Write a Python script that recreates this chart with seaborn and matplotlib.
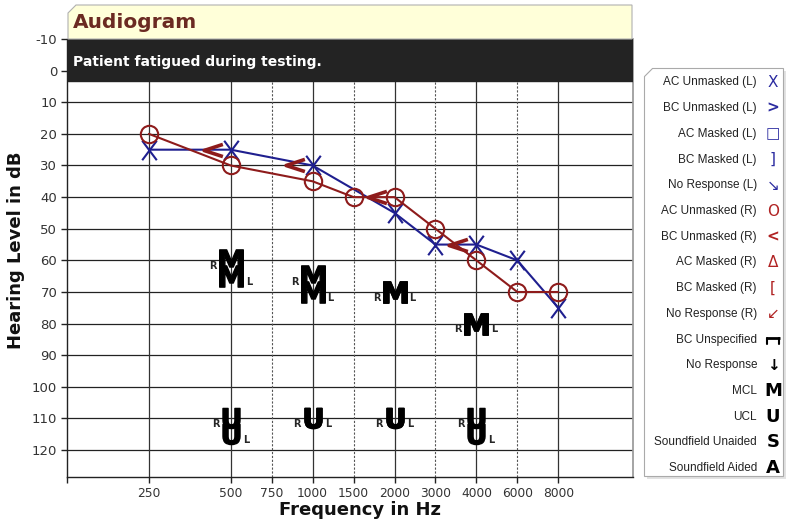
import numpy as np
import matplotlib
matplotlib.use('Agg')
import matplotlib.pyplot as plt
import seaborn as sns
from matplotlib.path import Path
from matplotlib.patches import Polygon
from matplotlib.transforms import ScaledTranslation

# audiogram frequency slots: octaves evenly spaced, half-octave freqs in the middle
scale_freqs = [125, 250, 500, 750, 1000, 1500, 2000, 3000, 4000, 6000, 8000, 16000]
scale_slots = [-1, 0, 1, 1.5, 2, 2.5, 3, 3.5, 4, 4.5, 5, 6]
tick_freqs = [125, 250, 500, 750, 1000, 1500, 2000, 3000, 4000, 6000, 8000]
tick_labels = ['', '250', '500', '750', '1000', '1500', '2000', '3000', '4000', '6000', '8000']
octave_freqs = [250, 500, 1000, 2000, 4000, 8000]
mid_freqs = [750, 1500, 3000, 6000]
db_ticks = list(range(-10, 130, 10))

# thresholds
left_ac_freqs = [250, 500, 1000, 2000, 3000, 4000, 6000, 8000]
left_ac_db = [25, 25, 30, 45, 55, 55, 60, 75]
right_ac_freqs = [250, 500, 1000, 1500, 2000, 3000, 4000, 6000, 8000]
right_ac_db = [20, 30, 35, 40, 40, 50, 60, 70, 70]
right_bc_freqs = [500, 1000, 2000, 4000]
right_bc_db = [25, 30, 40, 55]

# comfort / discomfort levels
mcl_freqs = [500, 1000, 2000, 4000]
mcl_right_db = [60, 65, 70, 80]
mcl_left_db = [65, 70, 70, 80]
ucl_freqs = [500, 1000, 2000, 4000]
ucl_right_db = [110, 110, 110, 110]
ucl_left_db = [115, 110, 110, 115]

legend_labels = ['AC Unmasked (L)', 'BC Unmasked (L)', 'AC Masked (L)', 'BC Masked (L)',
                 'No Response (L)', 'AC Unmasked (R)', 'BC Unmasked (R)', 'AC Masked (R)',
                 'BC Masked (R)', 'No Response (R)', 'BC Unspecified', 'No Response',
                 'MCL', 'UCL', 'Soundfield Unaided', 'Soundfield Aided']
legend_symbols = ['X', '>', '\u25a1', ']', '\u2198', 'O', '<', '\u0394',
                  '[', '\u2199', '', '\u2193', 'M', 'U', 'S', 'A']

BLUE = '#1f1f8f'
RED = '#8e1b1b'
LEG_BLUE = '#2b2ba0'
LEG_RED = '#b02222'
legend_colors = [LEG_BLUE] * 5 + [LEG_RED] * 5 + ['black'] * 6

sns.set_theme(style='white')
plt.rcParams['font.family'] = ['DejaVu Sans']
plt.rcParams['axes.unicode_minus'] = False

W, H = 786, 520
fig = plt.figure(figsize=(W / 100, H / 100), dpi=100)
ax = fig.add_axes([67 / W, 1 - 477 / H, (633 - 67) / W, (477 - 39) / H])


def fwd(f):
    return np.interp(f, scale_freqs, scale_slots)


def inv(p):
    return np.interp(p, scale_slots, scale_freqs)


ax.set_xscale('function', functions=(fwd, inv))
ax.set_xlim(125, 15300)
ax.set_ylim(128.5, -10)

# grid
for db in db_ticks[2:]:
    ax.axhline(db, color='#222222', lw=0.9, zorder=1)
for f in octave_freqs:
    ax.axvline(f, color='#333333', lw=0.9, zorder=1)
for f in mid_freqs:
    ax.axvline(f, color='#555555', lw=0.8, ls=(0, (2, 1.5)), zorder=1)

# threshold curves
x_marker = Path([(-0.75, -1), (0.75, 1), (-0.75, 1), (0.75, -1)],
                [Path.MOVETO, Path.LINETO, Path.MOVETO, Path.LINETO])
bc_right_marker = Path([(1, 0.65), (-1, 0), (1, -0.65)],
                       [Path.MOVETO, Path.LINETO, Path.LINETO])

sns.lineplot(x=left_ac_freqs, y=left_ac_db, color=BLUE, lw=1.5, marker=x_marker,
             markersize=14, markeredgewidth=1.5, markeredgecolor=BLUE,
             markerfacecolor='none', ax=ax, zorder=3)
sns.lineplot(x=right_ac_freqs, y=right_ac_db, color=RED, lw=1.5, marker='o',
             markersize=12.5, markeredgewidth=1.5, markeredgecolor=RED,
             markerfacecolor='none', ax=ax, zorder=3)

bc_shift = ax.transData + ScaledTranslation(-18 / 100, 0, fig.dpi_scale_trans)
ax.plot(right_bc_freqs, right_bc_db, ls='none', marker=bc_right_marker, markersize=13.5,
        markeredgewidth=2.6, markeredgecolor=RED, markerfacecolor='none',
        transform=bc_shift, zorder=4)


# MCL / UCL glyphs with R/L subscripts
def level_marks(freqs, right_db, left_db, glyph, size, dx):
    for db in (right_db, left_db):
        ax.plot(freqs, db, ls='none', marker=r'$\mathbf{%s}$' % glyph,
                markersize=size, color='black', zorder=4)
    for f, r, l in zip(freqs, right_db, left_db):
        ax.annotate('R', (f, r), xytext=(-dx, -4), textcoords='offset points',
                    ha='center', va='center', fontsize=7, fontweight='bold', zorder=4)
        ax.annotate('L', (f, l), xytext=(dx, -4), textcoords='offset points',
                    ha='center', va='center', fontsize=7, fontweight='bold', zorder=4)


level_marks(mcl_freqs, mcl_right_db, mcl_left_db, 'M', 17, 13)
level_marks(ucl_freqs, ucl_right_db, ucl_left_db, 'U', 14.5, 11)

# black note band over the top of the grid
ax.axhspan(-10, 3.2, color='#232323', zorder=6)

ax.xaxis.set_major_locator(matplotlib.ticker.FixedLocator(tick_freqs))
ax.xaxis.set_minor_locator(matplotlib.ticker.NullLocator())
ax.set_xticklabels(tick_labels)
ax.set_yticks(db_ticks)
ax.tick_params(axis='both', which='major', bottom=True, left=True, direction='out',
               length=4, width=1, color='#222222', labelsize=9.5, labelcolor='#333333',
               pad=3)
ax.tick_params(axis='x', labelsize=8.8, pad=3)
for side in ('left', 'bottom'):
    ax.spines[side].set_color('#222222')
    ax.spines[side].set_linewidth(1)
ax.spines['right'].set_color('#999999')
ax.spines['top'].set_visible(False)
ax.set_xlabel('')
ax.set_ylabel('')

# overlay in pixel coordinates for title box, labels and legend
ov = fig.add_axes([0, 0, 1, 1])
ov.set_xlim(0, W)
ov.set_ylim(H, 0)
ov.axis('off')
ov.patch.set_alpha(0)

ov.add_patch(Polygon([(68, 13), (76, 5), (632, 5), (632, 39), (68, 39)], closed=True,
                     facecolor='#ffffd9', edgecolor='#b0b0b0', lw=0.8))
ov.text(73, 22, 'Audiogram', fontsize=14.5, fontweight='bold', color='#6b2a22',
        ha='left', va='center')
ov.text(73, 62, 'Patient fatigued during testing.', fontsize=10, fontweight='bold',
        color='white', ha='left', va='center')

ov.text(360, 510, 'Frequency in Hz', fontsize=13, fontweight='bold', color='#111111',
        ha='center', va='center')
ov.text(16, 250, 'Hearing Level in dB', fontsize=13, fontweight='bold', color='#111111',
        ha='center', va='center', rotation=90)

# legend panel
box = [(652, 68), (783, 68), (783, 476), (644, 476), (644, 76)]
ov.add_patch(Polygon([(x + 3, y + 3) for x, y in box], closed=True,
                     facecolor='#e2e2e2', edgecolor='none'))
ov.add_patch(Polygon(box, closed=True, facecolor='white', edgecolor='#aaaaaa', lw=0.8))
for i, (lab, sym, col) in enumerate(zip(legend_labels, legend_symbols, legend_colors)):
    y = 82.5 + i * 25.7
    ov.text(757, y, lab, fontsize=8.5, family='Liberation Sans', color='#222222',
            ha='right', va='center')
    if sym:
        bold = i >= 11 or sym in ('>', '<')
        size = 13 if i >= 12 else 11
        ov.text(773, y, sym, fontsize=size, fontweight='bold' if bold else 'normal',
                color=col, ha='center', va='center')
    else:
        ov.plot([766, 780], [y - 2, y - 2], color='black', lw=2, solid_capstyle='butt')
        ov.plot([767, 767], [y - 2, y + 4], color='black', lw=1.5)
        ov.plot([779, 779], [y - 2, y + 4], color='black', lw=1.5)

fig.savefig('out.png', dpi=100)
